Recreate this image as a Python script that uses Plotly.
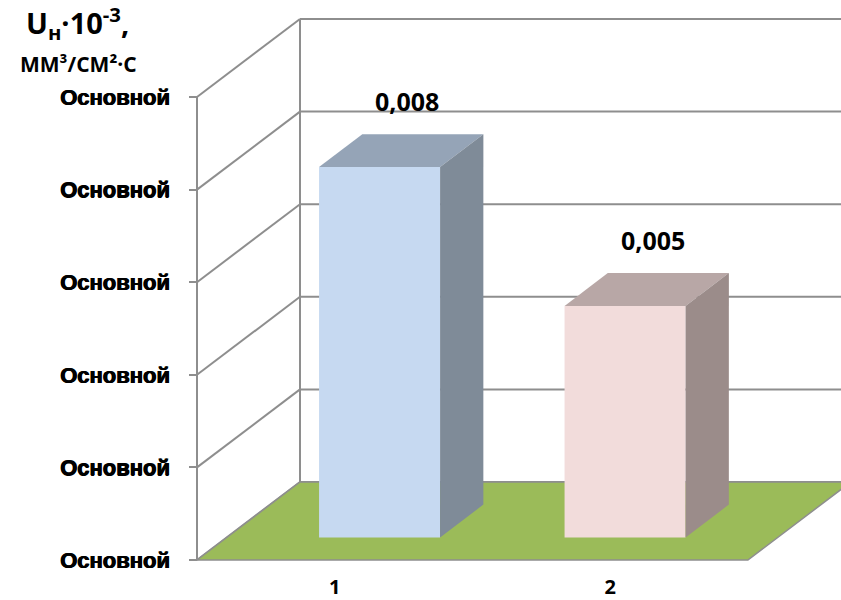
import plotly.graph_objects as go

# ---- data -------------------------------------------------------------
categories = ["1", "2"]
values = [0.008, 0.005]
tick_values = [0, 0.002, 0.004, 0.006, 0.008, 0.010]
tick_labels = ["Основной"] * len(tick_values)

front_colors = ["#C6D9F1", "#F2DCDB"]
top_colors = ["#95A4B7", "#B8A7A6"]
side_colors = ["#7F8B98", "#9B8C8A"]

# ---- oblique projection of the depth axis -----------------------------
W, H = 841, 600
M_L, M_R, M_T, M_B = 190, 0, 0, 33
PLOT_W, PLOT_H = W - M_L - M_R, H - M_T - M_B
PX_X = 245.5            # px per category unit
PX_Y = 46300.0          # px per value unit
DEPTH_X = 103 / PX_X    # shift of the back plane, x
DEPTH_Y = 78 / PX_Y     # shift of the back plane, y
PAD_X = 7 / PX_X
PAD_Y = 7 / PX_Y
FLOOR_L, FLOOR_R = 0.378, 2.622
HALF_W = 0.2465
Z_FRONT, Z_BACK = 0.29, 0.71
GRID = "#8E8E8E"

x_range = [FLOOR_L - PAD_X, FLOOR_L - PAD_X + PLOT_W / PX_X]
y_range = [-PAD_Y, -PAD_Y + PLOT_H / PX_Y]
top_val = tick_values[-1]

fig = go.Figure()


def poly(xs, ys, fill, line_color=None, line_w=0):
    fig.add_trace(go.Scatter(
        x=list(xs) + [xs[0]], y=list(ys) + [ys[0]],
        mode="lines", fill="toself", fillcolor=fill,
        line=dict(color=line_color or fill, width=line_w),
        hoverinfo="skip", showlegend=False))


def seg(xs, ys):
    fig.add_trace(go.Scatter(
        x=xs, y=ys, mode="lines", line=dict(color=GRID, width=2),
        hoverinfo="skip", showlegend=False))


# walls: side-wall diagonals and back-wall gridlines
for v in tick_values:
    seg([FLOOR_L, FLOOR_L + DEPTH_X], [v, v + DEPTH_Y])
    seg([FLOOR_L + DEPTH_X, FLOOR_R + DEPTH_X], [v + DEPTH_Y, v + DEPTH_Y])
seg([FLOOR_L + DEPTH_X] * 2, [DEPTH_Y, top_val + DEPTH_Y])
seg([FLOOR_L] * 2, [0, top_val])

# floor
poly([FLOOR_L, FLOOR_R, FLOOR_R + DEPTH_X, FLOOR_L + DEPTH_X],
     [0, 0, DEPTH_Y, DEPTH_Y], "#9BBB59", GRID, 1.5)

# bars: front, top and right faces
for i, (cat, v) in enumerate(zip(categories, values)):
    c = i + 1
    xl, xr = c - HALF_W, c + HALF_W
    fx, fy = Z_FRONT * DEPTH_X, Z_FRONT * DEPTH_Y
    bx, by = Z_BACK * DEPTH_X, Z_BACK * DEPTH_Y
    poly([xl + fx, xr + fx, xr + fx, xl + fx], [fy, fy, v + fy, v + fy],
         front_colors[i])
    poly([xl + fx, xr + fx, xr + bx, xl + bx],
         [v + fy, v + fy, v + by, v + by], top_colors[i])
    poly([xr + fx, xr + bx, xr + bx, xr + fx],
         [fy, by, v + by, v + fy], side_colors[i])
    mid = 0.5 * (Z_FRONT + Z_BACK)
    fig.add_annotation(
        x=c + mid * DEPTH_X, y=v + mid * DEPTH_Y, xref="x", yref="y",
        text=f"{v:.3f}".replace(".", ","), showarrow=False,
        xshift=6, yshift=50,
        font=dict(family="Open Sans", size=25, color="#000000", weight="bold"))

# axis title
fig.add_annotation(
    x=(78 - M_L) / PLOT_W, y=(H - M_B - 23) / PLOT_H, xref="paper", yref="paper",
    text="U<sub>н</sub>·10<sup>-3</sup>,", showarrow=False,
    xanchor="center", yanchor="middle",
    font=dict(family="Open Sans", size=29, color="#000000", weight="bold"))
fig.add_annotation(
    x=(79 - M_L) / PLOT_W, y=(H - M_B - 64) / PLOT_H, xref="paper", yref="paper",
    text="ММ³/СМ²·С", showarrow=False, xanchor="center", yanchor="middle",
    font=dict(family="Open Sans", size=21, color="#000000", weight="bold"))

band = (FLOOR_R - FLOOR_L) / len(categories)
label_pos = [FLOOR_L + band * (k + 0.5) for k in range(len(categories))]

fig.update_layout(
    width=W, height=H,
    margin=dict(l=M_L, r=M_R, t=M_T, b=M_B, autoexpand=False),
    paper_bgcolor="white", plot_bgcolor="white",
    showlegend=False,
    xaxis=dict(range=x_range, showgrid=False, zeroline=False, showline=False,
               tickvals=label_pos, ticktext=categories, ticks="",
               anchor="free", position=PAD_Y * PX_Y / PLOT_H,
               ticklabelstandoff=13,
               tickfont=dict(family="Open Sans", size=20, color="#000000",
                             weight="bold")),
    xaxis2=dict(range=x_range, overlaying="x", side="bottom",
                anchor="free", position=PAD_Y * PX_Y / PLOT_H,
                showgrid=False, zeroline=False, showline=False,
                tickvals=[FLOOR_L, FLOOR_R], ticks="outside", ticklen=10,
                tickwidth=2, tickcolor=GRID, showticklabels=False),
    yaxis=dict(range=y_range, showgrid=False, zeroline=False, showline=False,
               anchor="free", position=PAD_X * PX_X / PLOT_W,
               tickvals=tick_values, ticktext=tick_labels,
               ticks="outside", ticklen=8, tickwidth=2, tickcolor=GRID,
               ticklabelstandoff=15,
               tickfont=dict(family="Liberation Sans", size=22, color="#000000",
                             weight="bold",
                             shadow="1px 0px 0px #000000, 0.5px 0.5px 0px #000000")),
)

fig.write_html("out.html")
